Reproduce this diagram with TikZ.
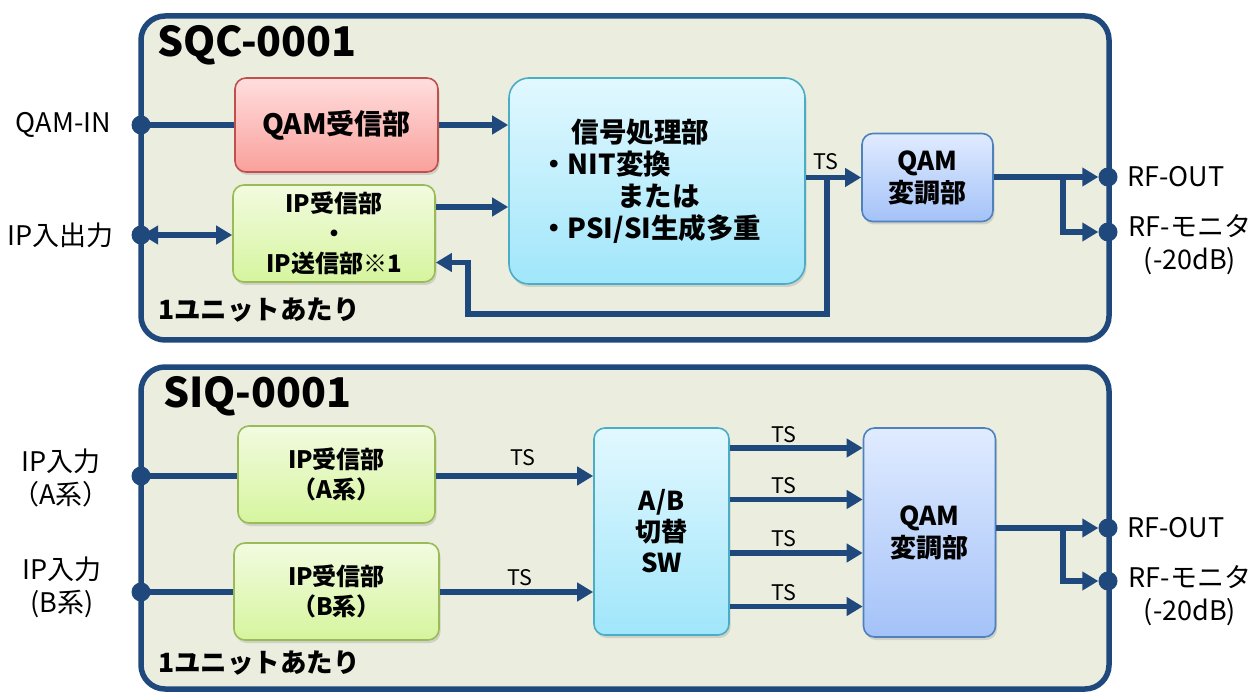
\documentclass[tikz,border=0pt]{standalone}
\usepackage{fontspec}
\setmainfont{Noto Sans CJK JP}
\usetikzlibrary{arrows.meta,shadows,calc}
\definecolor{dblue}{RGB}{31,73,125}
\definecolor{panelbg}{RGB}{235,237,222}
\definecolor{redtop}{RGB}{255,222,222}
\definecolor{redbot}{RGB}{249,160,155}
\definecolor{redbd}{RGB}{192,80,77}
\definecolor{grntop}{RGB}{242,251,224}
\definecolor{grnbot}{RGB}{214,245,158}
\definecolor{grnbd}{RGB}{155,187,89}
\definecolor{cytop}{RGB}{226,248,255}
\definecolor{cybot}{RGB}{160,230,250}
\definecolor{cybd}{RGB}{75,172,198}
\definecolor{blutop}{RGB}{224,235,255}
\definecolor{blubot}{RGB}{164,194,248}
\definecolor{blubd}{RGB}{79,129,189}
\tikzset{
  panel/.style={draw=dblue,line width=5.5pt,fill=panelbg,rounded corners=24pt},
  blk/.style={rounded corners=11pt,line width=1.6pt,align=center,inner sep=0pt,
    font=\bfseries\fontsize{24}{30}\selectfont,
    drop shadow={shadow xshift=1.5pt,shadow yshift=-3pt,opacity=0.25}},
  redblk/.style={blk,draw=redbd,top color=redtop,bottom color=redbot},
  grnblk/.style={blk,draw=grnbd,top color=grntop,bottom color=grnbot},
  cyblk/.style={blk,draw=cybd,top color=cytop,bottom color=cybot},
  blublk/.style={blk,draw=blubd,top color=blutop,bottom color=blubot},
  conn/.style={draw=dblue,line width=5.5pt},
  arr/.style={conn,-{Triangle[width=18pt,length=16pt]}},
  darr/.style={conn,{Triangle[width=18pt,length=16pt]}-{Triangle[width=18pt,length=16pt]}},
  port/.style={circle,fill=dblue,minimum size=19pt,inner sep=0pt},
  lbl/.style={font=\fontsize{27}{33}\selectfont,align=center,inner sep=0pt},
  tslbl/.style={font=\fontsize{21.5}{24}\selectfont,inner sep=0pt},
  ttl/.style={font=\bfseries\fontsize{41}{48}\selectfont,inner sep=0pt,anchor=base west},
  unit/.style={font=\bfseries\fontsize{26.5}{30}\selectfont,inner sep=0pt,anchor=base west},
}
\begin{document}
\begin{tikzpicture}[x=1pt,y=-1pt]
\useasboundingbox (0,0) rectangle (1255,692);
% panels
\draw[panel] (141,16) rectangle (1109,340);
\draw[panel] (141,367) rectangle (1109,689);
\node[ttl] (t1) at (157,57) {SQC-0001};
\node[ttl] (t2) at (163,407) {SIQ-0001};
\node[unit] (u1) at (158,320) {1ユニットあたり};
\node[unit] (u2) at (158,672) {1ユニットあたり};
% top blocks
\node[redblk,minimum width=203pt,minimum height=94pt,font=\bfseries\fontsize{28}{32}\selectfont] (qrx) at (336.5,125) {QAM受信部};
\node[grnblk,minimum width=202pt,minimum height=97pt] (ipb) at (334,233.5) {IP受信部\\・\\IP送信部※1};
\node[cyblk,rounded corners=20pt,minimum width=296pt,minimum height=206pt,align=left,font=\bfseries\fontsize{27.5}{32}\selectfont] (sp) at (657,181)
  {\hspace*{1.15em}信号処理部\\・NIT変換\\\hspace*{2.8em}または\\・PSI/SI生成多重\hspace*{0.45em}};
\node[blublk,minimum width=131pt,minimum height=88pt,font=\bfseries\fontsize{26}{32}\selectfont] (qmt) at (927.5,177.5) {QAM\\変調部};
% bottom blocks
\node[grnblk,minimum width=197pt,minimum height=97pt] (ipa) at (336.5,474.5) {IP受信部\\（A系）};
\node[grnblk,minimum width=205pt,minimum height=97pt] (ipbb) at (336.5,591.5) {IP受信部\\（B系）};
\node[cyblk,minimum width=135pt,minimum height=207pt,font=\bfseries\fontsize{26}{31}\selectfont] (sw) at (661.5,531.5) {A/B\\切替\\SW};
\node[blublk,minimum width=132pt,minimum height=209pt,font=\bfseries\fontsize{26}{32}\selectfont] (qmb) at (929.5,532.5) {QAM\\変調部};
% ports
\node[port] (qin) at (141,125) {};
\node[port] (ipio) at (141,235) {};
\node[port] (rfo1) at (1108,177) {};
\node[port] (rfm1) at (1108,232) {};
\node[port] (ina) at (141,476) {};
\node[port] (inb) at (141,592) {};
\node[port] (rfo2) at (1108,528) {};
\node[port] (rfm2) at (1108,581) {};
% outer labels
\node[lbl,anchor=east] (lqin) at (111,125) {QAM-IN};
\node[lbl,anchor=east] (lipio) at (114,235) {IP入出力};
\node[lbl,anchor=west] (lrfo1) at (1127,177) {RF-OUT};
\node[lbl] (lrfm1) at (1190,245) {RF-モニタ\\(-20dB)};
\node[lbl] (lina) at (61,477.5) {IP入力\\（A系）};
\node[lbl] (linb) at (62,587.5) {IP入力\\(B系)};
\node[lbl,anchor=west] (lrfo2) at (1127,528) {RF-OUT};
\node[lbl] (lrfm2) at (1190,596) {RF-モニタ\\(-20dB)};
% TS labels
\node[tslbl] (ts0) at (826,162) {TS};
\node[tslbl] (ts1) at (523,458) {TS};
\node[tslbl] (ts2) at (520,578) {TS};
\node[tslbl] (ts3) at (784,435) {TS};
\node[tslbl] (ts4) at (784,486) {TS};
\node[tslbl] (ts5) at (784,539) {TS};
\node[tslbl] (ts6) at (784,593) {TS};
% top connectors
\draw[conn] (qin.center) -- (qrx.west |- qin);
\draw[arr] (qrx.east) -- (sp.west |- qrx.east);
\draw[arr] ([yshift=26.5pt]ipb.east) -- (sp.west |- 0,207);
\draw[darr,shorten <=1pt] (ipio.center) -- (ipb.west |- ipio);
\draw[arr] (sp.east |- qmt.west) -- (qmt.west);
\coordinate (j1) at (827,177.5);
\coordinate (fb) at (468,314);
\draw[arr] (j1) |- (fb) |- ([yshift=-29pt]ipb.east);
\draw[arr] (qmt.east |- rfo1) -- (rfo1.west);
\coordinate (jr1) at (1063,177);
\draw[arr] (jr1) |- (rfm1.west);
% bottom connectors
\draw[conn] (ina.center) -- (ipa.west |- ina);
\draw[arr] (ipa.east |- ina) -- (sw.west |- ina);
\draw[conn] (inb.center) -- (ipbb.west |- inb);
\draw[arr] (ipbb.east |- inb) -- (sw.west |- inb);
\foreach \yy in {448,499.5,553,606.5}
  \draw[arr] (sw.east |- 0,\yy) -- (qmb.west |- 0,\yy);
\draw[arr] (qmb.east |- rfo2) -- (rfo2.west);
\coordinate (jr2) at (1063,528);
\draw[arr] (jr2) |- (rfm2.west);
\end{tikzpicture}
\end{document}
